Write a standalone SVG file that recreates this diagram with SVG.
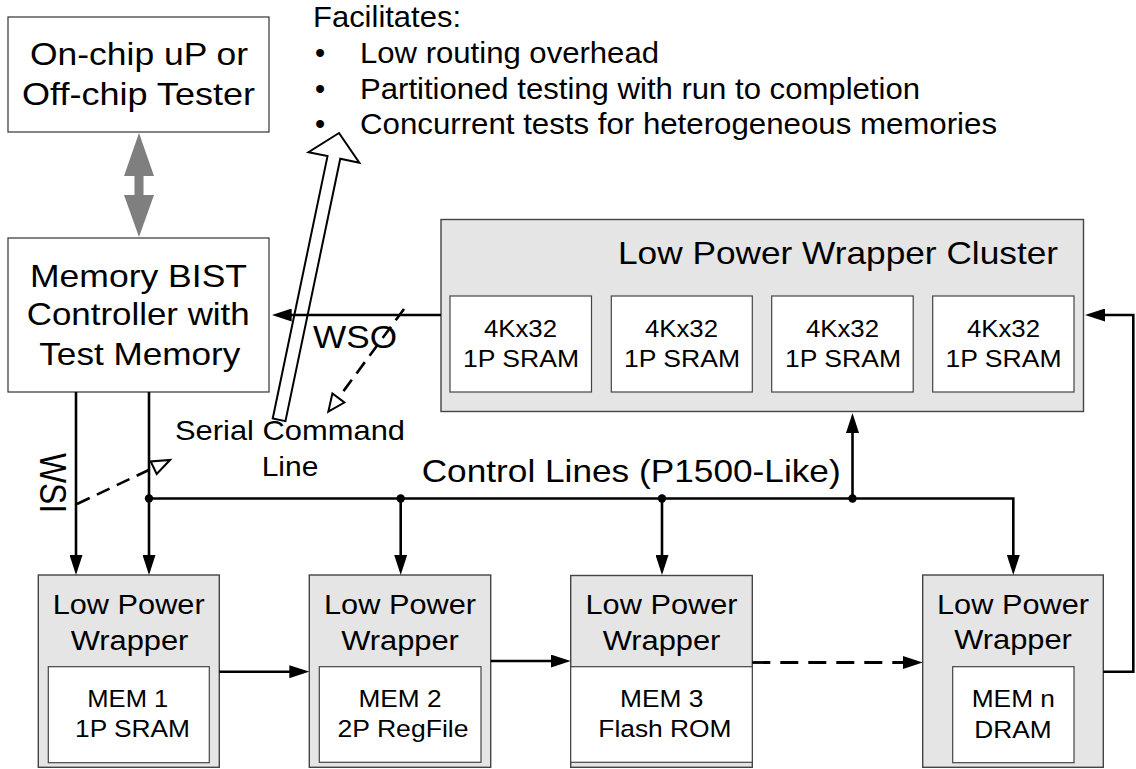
<svg xmlns="http://www.w3.org/2000/svg" width="1136" height="769" viewBox="0 0 1136 769">
  <style>
    text { font-family: "Liberation Sans", Arial, Helvetica, sans-serif; fill: #000; }
    .big { font-size: 32px; }
    .note { font-size: 29px; }
    .lbl { font-size: 28px; }
    .wrp { font-size: 27px; }
    .mem { font-size: 24.5px; }
    .box { fill: #fff; stroke: #333; stroke-width: 1.2; }
    .shade { fill: #e5e5e5; stroke: #444; stroke-width: 1.4; }
    .inner { fill: #fff; stroke: #444; stroke-width: 1.2; }
    .wire { fill: none; stroke: #000; stroke-width: 2.6; }
    .dash { fill: none; stroke: #000; stroke-width: 2.6; stroke-dasharray: 14 8; }
    .hdash { fill: none; stroke: #000; stroke-width: 2.8; stroke-dasharray: 18 10; }
    .open { fill: #fff; stroke: #000; stroke-width: 2; stroke-linejoin: miter; }
    .dot { fill: #000; }
  </style>
  <defs>
    <marker id="ah" markerUnits="userSpaceOnUse" viewBox="0 0 20 13" markerWidth="20" markerHeight="13" refX="10" refY="6.5" orient="auto">
      <path d="M0,0 L20,6.5 L0,13 z" fill="#000"/>
    </marker>
  </defs>

  <rect width="1136" height="769" fill="#fff"/>

  <!-- host: processor or external tester -->
  <g id="host">
    <rect class="box" x="8" y="17" width="261" height="115"/>
    <text class="big" x="30" y="65" textLength="218" lengthAdjust="spacingAndGlyphs">On-chip uP or</text>
    <text class="big" x="22" y="105" textLength="233" lengthAdjust="spacingAndGlyphs">Off-chip Tester</text>
  </g>

  <!-- benefits list -->
  <g id="benefits">
    <text class="note" x="313" y="27" textLength="148" lengthAdjust="spacingAndGlyphs">Facilitates:</text>
    <text class="note" x="315" y="63">•</text>
    <text class="note" x="315" y="99">•</text>
    <text class="note" x="315" y="134">•</text>
    <text class="note" x="360" y="63" textLength="299" lengthAdjust="spacingAndGlyphs">Low routing overhead</text>
    <text class="note" x="360" y="99" textLength="560" lengthAdjust="spacingAndGlyphs">Partitioned testing with run to completion</text>
    <text class="note" x="360" y="134" textLength="637" lengthAdjust="spacingAndGlyphs">Concurrent tests for heterogeneous memories</text>
  </g>

  <!-- BIST controller -->
  <g id="bist">
    <rect class="box" x="8" y="238" width="261" height="154"/>
    <text class="big" x="30" y="287" textLength="217" lengthAdjust="spacingAndGlyphs">Memory BIST</text>
    <text class="big" x="26.7" y="325" textLength="223" lengthAdjust="spacingAndGlyphs">Controller with</text>
    <text class="big" x="39.3" y="365" textLength="201" lengthAdjust="spacingAndGlyphs">Test Memory</text>
  </g>

  <!-- wrapper cluster with four SRAMs -->
  <g id="cluster">
    <rect class="shade" x="441" y="219.5" width="642.5" height="192"/>
    <text class="big" x="618" y="264" textLength="440" lengthAdjust="spacingAndGlyphs">Low Power Wrapper Cluster</text>
    <rect class="inner" x="450" y="296" width="141.5" height="96"/>
    <rect class="inner" x="611.3" y="296" width="141" height="96"/>
    <rect class="inner" x="771.7" y="296" width="141.5" height="96"/>
    <rect class="inner" x="932.7" y="296" width="141.3" height="96"/>
    <text class="mem" x="484" y="336.7" textLength="73" lengthAdjust="spacingAndGlyphs">4Kx32</text>
    <text class="mem" x="463" y="366.7" textLength="116" lengthAdjust="spacingAndGlyphs">1P SRAM</text>
    <text class="mem" x="645" y="336.7" textLength="73" lengthAdjust="spacingAndGlyphs">4Kx32</text>
    <text class="mem" x="624" y="366.7" textLength="116" lengthAdjust="spacingAndGlyphs">1P SRAM</text>
    <text class="mem" x="806" y="336.7" textLength="73" lengthAdjust="spacingAndGlyphs">4Kx32</text>
    <text class="mem" x="785" y="366.7" textLength="116" lengthAdjust="spacingAndGlyphs">1P SRAM</text>
    <text class="mem" x="967" y="336.7" textLength="73" lengthAdjust="spacingAndGlyphs">4Kx32</text>
    <text class="mem" x="945.5" y="366.7" textLength="116" lengthAdjust="spacingAndGlyphs">1P SRAM</text>
  </g>

  <!-- wrapped memories -->
  <g id="mem1">
    <rect class="shade" x="38.3" y="575" width="181" height="192.3"/>
    <rect class="inner" x="48.3" y="666.7" width="161" height="96"/>
    <text class="wrp" x="52.7" y="613.5" textLength="152" lengthAdjust="spacingAndGlyphs">Low Power</text>
    <text class="wrp" x="70.7" y="649.5" textLength="117.7" lengthAdjust="spacingAndGlyphs">Wrapper</text>
    <text class="mem" x="87.3" y="706.5" textLength="81" lengthAdjust="spacingAndGlyphs">MEM 1</text>
    <text class="mem" x="75" y="737" textLength="115" lengthAdjust="spacingAndGlyphs">1P SRAM</text>
  </g>
  <g id="mem2">
    <rect class="shade" x="309.3" y="575" width="181.4" height="192.3"/>
    <rect class="inner" x="319.3" y="666.7" width="161.7" height="95.6"/>
    <text class="wrp" x="324" y="613.5" textLength="152" lengthAdjust="spacingAndGlyphs">Low Power</text>
    <text class="wrp" x="341.2" y="649.5" textLength="117.7" lengthAdjust="spacingAndGlyphs">Wrapper</text>
    <text class="mem" x="358.5" y="706.5" textLength="83" lengthAdjust="spacingAndGlyphs">MEM 2</text>
    <text class="mem" x="337.5" y="737" textLength="131" lengthAdjust="spacingAndGlyphs">2P RegFile</text>
  </g>
  <g id="mem3">
    <rect class="shade" x="570.7" y="575.5" width="181.6" height="191.8"/>
    <rect class="inner" x="570.7" y="666.7" width="181.6" height="95.6"/>
    <text class="wrp" x="585.5" y="613.5" textLength="152" lengthAdjust="spacingAndGlyphs">Low Power</text>
    <text class="wrp" x="602.7" y="649.5" textLength="117.7" lengthAdjust="spacingAndGlyphs">Wrapper</text>
    <text class="mem" x="620" y="706.5" textLength="83.3" lengthAdjust="spacingAndGlyphs">MEM 3</text>
    <text class="mem" x="598.3" y="737" textLength="133.3" lengthAdjust="spacingAndGlyphs">Flash ROM</text>
  </g>
  <g id="memn">
    <rect class="shade" x="922.7" y="575" width="180.6" height="192.3"/>
    <rect class="inner" x="952.7" y="666.7" width="121.3" height="96"/>
    <text class="wrp" x="937" y="613.5" textLength="152" lengthAdjust="spacingAndGlyphs">Low Power</text>
    <text class="wrp" x="954.2" y="649" textLength="117.7" lengthAdjust="spacingAndGlyphs">Wrapper</text>
    <text class="mem" x="971.7" y="707" textLength="83.3" lengthAdjust="spacingAndGlyphs">MEM n</text>
    <text class="mem" x="974.3" y="737.5" textLength="77.3" lengthAdjust="spacingAndGlyphs">DRAM</text>
  </g>

  <!-- serial command line callout -->
  <g id="serial-command">
    <polygon class="open" stroke-width="1.2" points="0,0 26,25 6.5,25 6.5,293 -6.5,293 -6.5,25 -26,25" transform="translate(339,133) rotate(11.8)"/>
    <text class="lbl" x="175" y="440" textLength="230" lengthAdjust="spacingAndGlyphs">Serial Command</text>
    <text class="lbl" x="261.7" y="476" textLength="56.7" lengthAdjust="spacingAndGlyphs">Line</text>
  </g>

  <g id="connectors">
    <!-- host <-> controller -->
    <polygon fill="#7f7f7f" points="139,133 154,176 143.5,176 143.5,195 154,195 139,237 124,195 134.5,195 134.5,176 124,176"/>

    <!-- wrapper serial output back to controller -->
    <path class="wire" d="M441,315 H281.7" marker-end="url(#ah)"/>

    <!-- wrapper serial input and control from controller -->
    <path class="wire" d="M76,392 V565" marker-end="url(#ah)"/>
    <path class="wire" d="M149,392 V565" marker-end="url(#ah)"/>

    <!-- control bus -->
    <path class="wire" d="M149,498.5 H1013.3 V565" marker-end="url(#ah)"/>
    <path class="wire" d="M400.7,498.5 V565" marker-end="url(#ah)"/>
    <path class="wire" d="M662,498.5 V565" marker-end="url(#ah)"/>
    <path class="wire" d="M852.5,498.5 V423" marker-end="url(#ah)"/>
    <circle class="dot" cx="149" cy="498.5" r="4.2"/>
    <circle class="dot" cx="400.7" cy="498.5" r="4.2"/>
    <circle class="dot" cx="662" cy="498.5" r="4.2"/>
    <circle class="dot" cx="852.5" cy="498.5" r="4.2"/>

    <!-- serial chain through the wrappers -->
    <path class="wire" d="M219.3,671.7 H299.3" marker-end="url(#ah)"/>
    <path class="wire" d="M490.7,661 H560.7" marker-end="url(#ah)"/>
    <path class="hdash" d="M752.3,662.5 H912.7" marker-end="url(#ah)"/>
    <path class="wire" d="M1103.3,671.7 H1133.3 V315 H1095" marker-end="url(#ah)"/>

    <!-- label pointers -->
    <path class="dash" d="M404,309 L338.4,398"/>
    <polygon class="open" points="328.3,411.7 344.4,402.5 332.4,393.5"/>
    <path class="dash" d="M77,504 L153.7,467.7"/>
    <polygon class="open" points="170,460 156.7,474 150.7,461.4"/>
  </g>

  <g id="signal-labels">
    <text class="big" x="313" y="348" textLength="84" lengthAdjust="spacingAndGlyphs">WSO</text>
    <text class="big" transform="translate(40,453) scale(1.15,1) rotate(90)" x="0" y="0" textLength="60" lengthAdjust="spacingAndGlyphs">WSI</text>
    <text class="big" x="421.7" y="482" textLength="419" lengthAdjust="spacingAndGlyphs">Control Lines (P1500-Like)</text>
  </g>
</svg>
